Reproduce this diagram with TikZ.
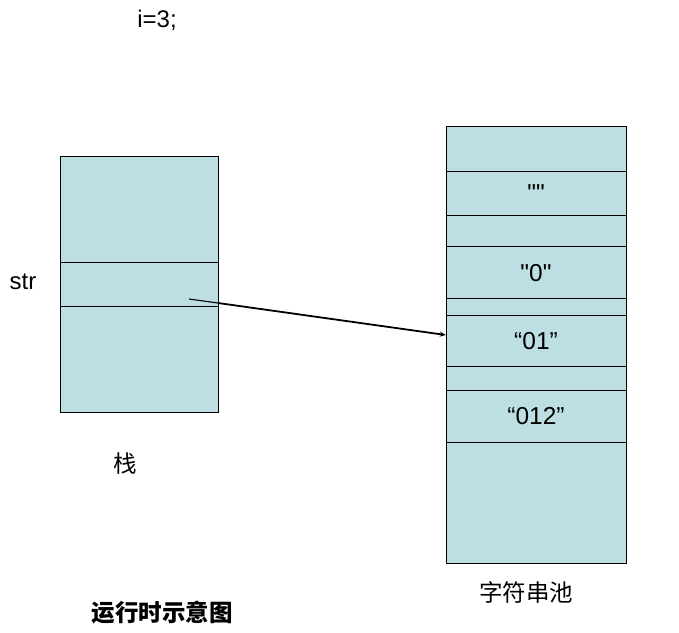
\documentclass[tikz,border=0pt]{standalone}
\usepackage{fontspec}
\setmainfont{Liberation Sans}
\newfontfamily\rawsans{Liberation Sans}
\newfontfamily\cjk{Noto Sans CJK SC}
\usetikzlibrary{arrows.meta}
\definecolor{cellblue}{RGB}{189,223,228}
\begin{document}
\begin{tikzpicture}[x=1pt,y=-1pt,
  lbl/.style={font=\fontsize{24}{26}\selectfont, inner sep=0pt},
  pooltxt/.style={font=\rawsans\fontsize{24.5}{27}\selectfont, inner sep=0pt},
  cjklbl/.style={font=\cjk\fontsize{23.5}{26}\selectfont, inner sep=0pt}]
\useasboundingbox (0,0) rectangle (679,632);
% stack
\draw[fill=cellblue, line width=0.8pt] (60,156) rectangle (218,412);
\draw[line width=0.8pt] (60,262) -- (218,262) (60,306) -- (218,306);
% pool
\draw[fill=cellblue, line width=0.8pt] (446,126) rectangle (626,563);
\foreach \yy in {171,215,246,298,315,366,390,442}
  \draw[line width=0.8pt] (446,\yy) -- (626,\yy);
\node[inner sep=0pt, minimum width=180pt, minimum height=51pt] (c01) at (536,340.5) {};
\node[pooltxt] (e) at (536,193) {""};
\node[pooltxt] (z) at (536,273) {"0"};
\node[pooltxt] (zo) at (536,341) {“01”};
\node[pooltxt] (zot) at (536,416) {“012”};
% labels
\node[lbl] (i3) at (157,20) {i=3;};
\node[lbl] (str) at (23,282) {str};
\node[cjklbl] (stack) at (125,464) {栈};
\node[cjklbl] (pool) at (526,592) {字符串池};
\node[cjklbl, font=\cjk\bfseries\fontsize{23.5}{26}\selectfont] (title) at (162,613) {运行时示意图};
% arrow
\coordinate (s) at (189,299);
\draw[line width=1.1pt] (s) -- (218,303);
\draw[line width=1.8pt, -{Stealth[length=6pt,width=5pt]}] (218,303) -- (c01.west |- 0,335);
\end{tikzpicture}
\end{document}
